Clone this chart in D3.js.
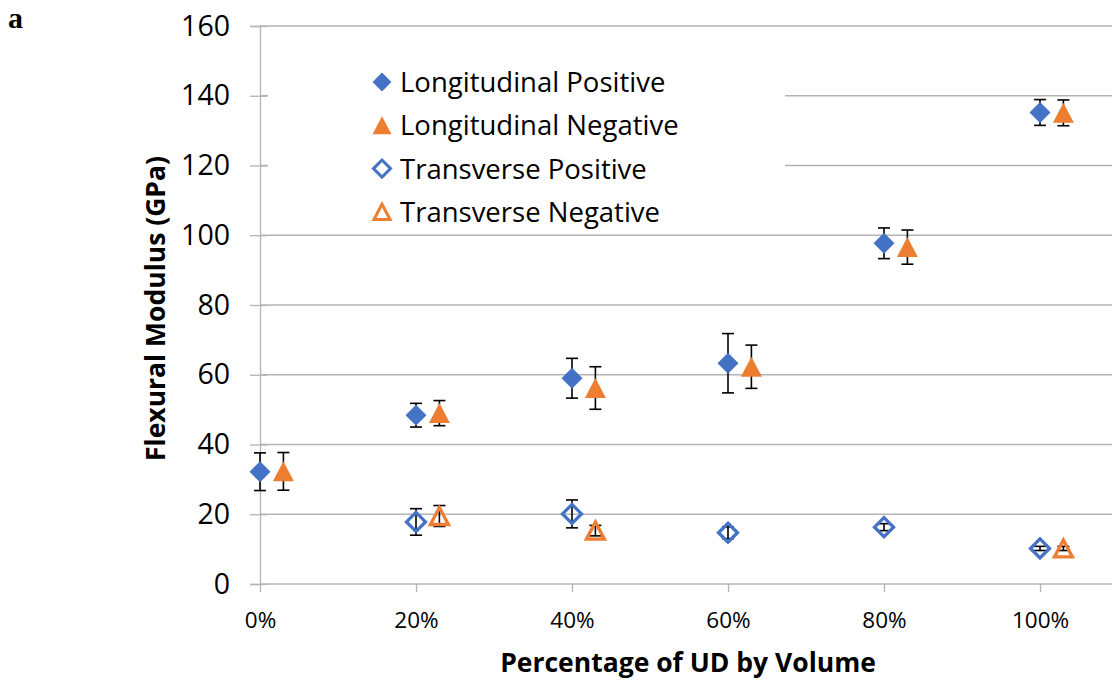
<!DOCTYPE html>
<html>
<head>
<meta charset="utf-8">
<script src="https://cdn.jsdelivr.net/npm/d3@7"></script>
<style>
  body { margin: 0; background: #fff; }
  svg { display: block; font-family: "Open Sans", sans-serif; }
</style>
</head>
<body>
<svg id="chart" width="1112" height="682"></svg>
<script>
// x positions of the fibre fractions (negative runs are plotted 3% to the right)
const fractions = [0, 0.2, 0.4, 0.6, 0.8, 1.0];
const xTicks = [0, 0.2, 0.4, 0.6, 0.8, 1.0];
const yTicks = [0, 20, 40, 60, 80, 100, 120, 140, 160];

const longPos    = [32.2, 48.4, 59.0, 63.3, 97.7, 135.2];
const longPosErr = [5.4, 3.4, 5.7, 8.5, 4.4, 3.7];
const longNeg    = [32.3, 49.0, 56.2, 62.3, 96.6, 135.1];
const longNegErr = [5.4, 3.6, 6.1, 6.2, 4.9, 3.7];
const transPos    = [null, 17.8, 20.1, 14.7, 16.3, 10.2];
const transPosErr = [null, 3.8, 4.0, 1.7, 1.0, 0.6];
const transNeg    = [null, 19.5, 15.3, null, null, 10.2];
const transNegErr = [null, 3.0, 1.5, null, null, 0.6];

const negShift = 0.03;
const blue = "#4472C4", orange = "#ED7D31";

const W = 1112, H = 682;
const svg = d3.select("#chart");

const x = d3.scaleLinear().domain([0, 1]).range([260, 1040]);
const y = d3.scaleLinear().domain([0, 160]).range([584, 26]);

// gridlines
svg.append("g")
	.selectAll("line")
	.data(yTicks.filter(d => d > 0))
	.enter()
	.append("line")
	.attr("x1", x(0)).attr("x2", W)
	.attr("y1", d => y(d)).attr("y2", d => y(d))
	.attr("stroke", "#b4b4b4")
	.attr("stroke-width", 1.3);

// y axis with ticks crossing the line
const yAxis = svg.append("g")
	.attr("transform", "translate(" + x(0) + ",0)")
	.call(d3.axisLeft(y).tickValues(yTicks).tickSize(10).tickPadding(20));
yAxis.select(".domain").attr("stroke", "#b4b4b4").attr("stroke-width", 1.3);
yAxis.selectAll(".tick line").attr("x2", -10).attr("x1", 7)
	.attr("stroke", "#b4b4b4").attr("stroke-width", 1.3);
yAxis.selectAll(".tick text")
	.attr("font-family", "Open Sans").attr("font-size", 28.5).attr("fill", "#000");

// x axis
const xAxis = svg.append("g")
	.attr("transform", "translate(0," + y(0) + ")")
	.call(d3.axisBottom(x).tickValues(xTicks).tickSize(8).tickPadding(20)
		.tickFormat(d3.format(".0%")));
xAxis.select(".domain").attr("d", "M" + x(0) + ",0H" + W)
	.attr("stroke", "#b4b4b4").attr("stroke-width", 1.3);
xAxis.selectAll(".tick line").attr("stroke", "#b4b4b4").attr("stroke-width", 1.3);
xAxis.selectAll(".tick text")
	.attr("font-family", "Open Sans").attr("font-size", 22.5).attr("fill", "#000");

// axis titles
svg.append("text")
	.attr("transform", "translate(165," + y(79) + ") rotate(-90)")
	.attr("text-anchor", "middle")
	.attr("font-weight", "bold").attr("font-size", 26.5)
	.text("Flexural Modulus (GPa)");

svg.append("text")
	.attr("x", 688).attr("y", 672)
	.attr("text-anchor", "middle")
	.attr("font-weight", "bold").attr("font-size", 26.5)
	.text("Percentage of UD by Volume");

svg.append("text")
	.attr("x", 8).attr("y", 28)
	.attr("font-family", "Liberation Serif").attr("font-weight", "bold")
	.attr("font-size", 30)
	.text("a");

// marker shapes
function diamond(r) { return "M0," + (-r) + "L" + r + ",0L0," + r + "L" + (-r) + ",0Z"; }
function triangle(w, h) { return "M0," + (-h / 2) + "L" + (w / 2) + "," + (h / 2) + "L" + (-w / 2) + "," + (h / 2) + "Z"; }

const series = [
	{ name: "Longitudinal Positive", vals: longPos, errs: longPosErr, shift: 0, shape: diamond(10.5), fill: blue, stroke: "none" },
	{ name: "Longitudinal Negative", vals: longNeg, errs: longNegErr, shift: negShift, shape: triangle(21, 20), fill: orange, stroke: "none" },
	{ name: "Transverse Positive", vals: transPos, errs: transPosErr, shift: 0, shape: diamond(9.5), fill: "none", stroke: blue },
	{ name: "Transverse Negative", vals: transNeg, errs: transNegErr, shift: negShift, shape: triangle(18, 17), fill: "none", stroke: orange }
];

// legend box hides the gridlines behind it
svg.append("rect")
	.attr("x", 268).attr("y", 44).attr("width", 517).attr("height", 186)
	.attr("fill", "#fff");

const legend = svg.append("g");
series.forEach((s, i) => {
	const cy = 82 + i * 43.3;
	legend.append("path")
		.attr("transform", "translate(382," + cy + ") scale(0.9)")
		.attr("d", s.shape)
		.attr("fill", s.fill)
		.attr("stroke", s.stroke)
		.attr("stroke-width", 3.3);
	legend.append("text")
		.attr("x", 400).attr("y", cy).attr("dy", "0.36em")
		.attr("font-size", 27.5)
		.text(s.name);
});

// error bars and markers
series.forEach(s => {
	const pts = fractions.map((f, i) => ({ f: f + s.shift, v: s.vals[i], e: s.errs[i] }))
		.filter(d => d.v != null);
	const g = svg.append("g");

	const eb = g.selectAll(".err").data(pts).enter().append("g")
		.attr("stroke", "#000").attr("stroke-width", 1.6);
	eb.append("line")
		.attr("x1", d => x(d.f)).attr("x2", d => x(d.f))
		.attr("y1", d => y(d.v + d.e)).attr("y2", d => y(d.v - d.e));
	eb.append("line")
		.attr("x1", d => x(d.f) - 6).attr("x2", d => x(d.f) + 6)
		.attr("y1", d => y(d.v + d.e)).attr("y2", d => y(d.v + d.e));
	eb.append("line")
		.attr("x1", d => x(d.f) - 6).attr("x2", d => x(d.f) + 6)
		.attr("y1", d => y(d.v - d.e)).attr("y2", d => y(d.v - d.e));

	g.selectAll(".mk").data(pts).enter().append("path")
		.attr("transform", d => "translate(" + x(d.f) + "," + y(d.v) + ")")
		.attr("d", s.shape)
		.attr("fill", s.fill)
		.attr("stroke", s.stroke)
		.attr("stroke-width", 3.3);
});
</script>
</body>
</html>
